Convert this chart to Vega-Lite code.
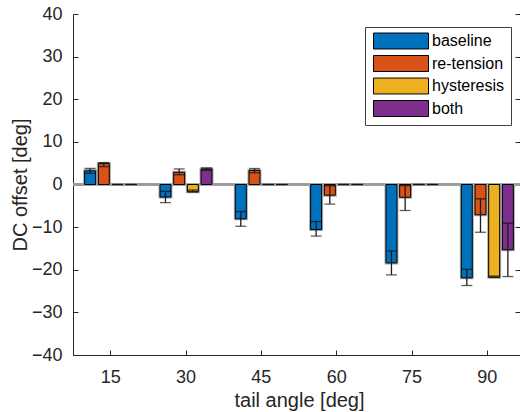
{
  "$schema": "https://vega.github.io/schema/vega-lite/v6.json",
  "width": 447,
  "height": 341,
  "autosize": {"type": "none"},
  "padding": {"left": 73, "top": 14, "right": 0, "bottom": 57},
  "background": "white",
  "config": {
    "view": {"stroke": null},
    "font": "Liberation Sans",
    "axis": {
      "domainColor": "#262626", "tickColor": "#262626", "labelColor": "#262626", "titleColor": "#262626",
      "labelFont": "Liberation Sans", "titleFont": "Liberation Sans",
      "labelFontSize": 18, "titleFontSize": 20, "titleFontWeight": "normal",
      "grid": false, "tickSize": -5, "domainWidth": 1, "tickWidth": 1
    }
  },
  "data": {"values": [
    {"angle": 15, "condition": "baseline", "value": 3.2, "mid": 2.6, "err": 3.75},
    {"angle": 15, "condition": "re-tension", "value": 4.9, "mid": 4.2, "err": 5.15},
    {"angle": 15, "condition": "hysteresis", "value": 0, "mid": 0, "err": 0},
    {"angle": 15, "condition": "both", "value": 0, "mid": 0, "err": 0},
    {"angle": 30, "condition": "baseline", "value": -2.95, "mid": -1.6, "err": -4.25},
    {"angle": 30, "condition": "re-tension", "value": 2.85, "mid": 2.3, "err": 3.65},
    {"angle": 30, "condition": "hysteresis", "value": -1.7, "mid": -1.3, "err": -1.75},
    {"angle": 30, "condition": "both", "value": 3.65, "mid": 3.3, "err": 3.9},
    {"angle": 45, "condition": "baseline", "value": -8.05, "mid": -6.35, "err": -9.8},
    {"angle": 45, "condition": "re-tension", "value": 3.3, "mid": 2.75, "err": 3.75},
    {"angle": 45, "condition": "hysteresis", "value": 0, "mid": 0, "err": 0},
    {"angle": 45, "condition": "both", "value": 0, "mid": 0, "err": 0},
    {"angle": 60, "condition": "baseline", "value": -10.55, "mid": -8.7, "err": -12.1},
    {"angle": 60, "condition": "re-tension", "value": -2.5, "mid": -0.3, "err": -4.6},
    {"angle": 60, "condition": "hysteresis", "value": 0, "mid": 0, "err": 0},
    {"angle": 60, "condition": "both", "value": 0, "mid": 0, "err": 0},
    {"angle": 75, "condition": "baseline", "value": -18.4, "mid": -15.6, "err": -21.2},
    {"angle": 75, "condition": "re-tension", "value": -3.0, "mid": -0.25, "err": -6.1},
    {"angle": 75, "condition": "hysteresis", "value": 0, "mid": 0, "err": 0},
    {"angle": 75, "condition": "both", "value": 0, "mid": 0, "err": 0},
    {"angle": 90, "condition": "baseline", "value": -21.9, "mid": -19.9, "err": -23.7},
    {"angle": 90, "condition": "re-tension", "value": -7.1, "mid": -3.35, "err": -11.2},
    {"angle": 90, "condition": "hysteresis", "value": -21.75, "mid": -21.5, "err": -21.8},
    {"angle": 90, "condition": "both", "value": -15.3, "mid": -9.1, "err": -21.6}
  ]},
  "encoding": {
    "x": {
      "field": "angle", "type": "ordinal",
      "scale": {"type": "band", "rangeMax": 452, "paddingInner": 0.273, "paddingOuter": 0.1365},
      "axis": {"labelAngle": 0, "title": "tail angle [deg]", "labelPadding": 18, "titlePadding": 4}
    },
    "xOffset": {
      "field": "condition", "type": "nominal",
      "sort": ["baseline", "re-tension", "hysteresis", "both"],
      "scale": {"paddingInner": 0.2, "paddingOuter": 0.1}
    }
  },
  "layer": [
    {
      "mark": {"type": "rule", "color": "#9a9a9a", "strokeWidth": 1.5},
      "encoding": {
        "x": null, "xOffset": null,
        "y": {"datum": 0, "type": "quantitative", "scale": {"domain": [-40, 40], "nice": false},
              "axis": {"orient": "right", "domain": false, "labels": false, "title": null, "values": [-40, -30, -20, -10, 0, 10, 20, 30, 40]}}
      }
    },
    {
      "mark": {"type": "bar", "fillOpacity": 0, "stroke": "#a8a8a8", "strokeWidth": 3},
      "encoding": {
        "y": {"field": "value", "type": "quantitative", "axis": null}
      }
    },
    {
      "mark": {"type": "bar", "stroke": "#000000", "strokeWidth": 1},
      "encoding": {
        "y": {"field": "value", "type": "quantitative", "scale": {"domain": [-40, 40], "nice": false},
              "axis": {"title": "DC offset [deg]", "values": [-40, -30, -20, -10, 0, 10, 20, 30, 40], "labelPadding": 16, "titlePadding": 1}},
        "color": {
          "field": "condition", "type": "nominal",
          "sort": ["baseline", "re-tension", "hysteresis", "both"],
          "scale": {"domain": ["baseline", "re-tension", "hysteresis", "both"], "range": ["#0072BD", "#D95319", "#EDB120", "#7E2F8E"]},
          "legend": {
            "title": null, "orient": "none", "legendX": 292, "legendY": 13,
            "symbolType": "M-1,-1.45H9V1.45H-1Z", "symbolSize": 121,
            "symbolStrokeColor": "#000000", "symbolStrokeWidth": 1, "symbolOpacity": 1,
            "labelFont": "Liberation Sans", "labelFontSize": 16, "labelColor": "#000000",
            "labelOffset": 45, "rowPadding": 2.5, "padding": 6,
            "strokeColor": "#404040", "fillColor": "#ffffff"
          }
        }
      }
    },
    {
      "mark": {"type": "tick", "orient": "horizontal", "color": "#111111", "size": 11, "thickness": 1.4},
      "encoding": {"y": {"field": "mid", "type": "quantitative", "axis": null}}
    },
    {
      "mark": {"type": "rule", "color": "#1a1a1a", "strokeWidth": 1.3},
      "encoding": {"y": {"field": "mid", "type": "quantitative", "axis": null}, "y2": {"field": "err"}}
    },
    {
      "mark": {"type": "tick", "orient": "horizontal", "color": "#1a1a1a", "size": 11, "thickness": 1.3},
      "encoding": {"y": {"field": "err", "type": "quantitative", "axis": null}}
    }
  ],
  "resolve": {"axis": {"y": "independent"}}
}
